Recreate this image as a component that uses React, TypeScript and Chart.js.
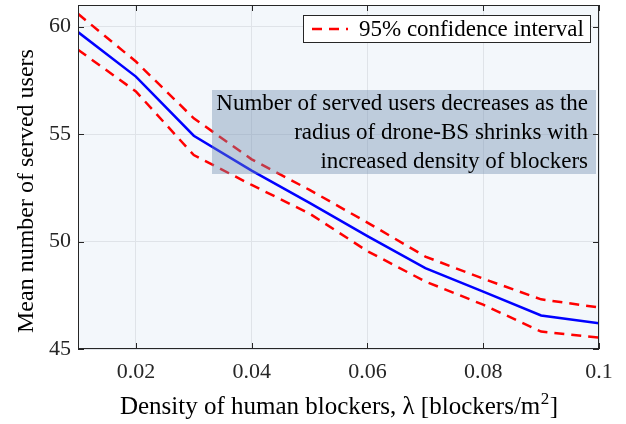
import React, { useEffect, useRef } from "react";
import { Chart, registerables } from "chart.js";

Chart.register(...registerables);

const lambda = [0.01, 0.02, 0.03, 0.04, 0.05, 0.06, 0.07, 0.08, 0.09, 0.1];
const meanUsers = [59.74, 57.67, 54.92, 53.3, 51.8, 50.25, 48.76, 47.67, 46.56, 46.2];
const upperCI = [60.59, 58.37, 55.73, 53.82, 52.4, 50.88, 49.3, 48.27, 47.31, 46.93];
const lowerCI = [58.92, 56.98, 54.02, 52.63, 51.3, 49.55, 48.14, 47.06, 45.81, 45.53];

const xTicks = [0.02, 0.04, 0.06, 0.08, 0.1];
const xTickLabels = ["0.02", "0.04", "0.06", "0.08", "0.1"];
const yTicks = [45, 50, 55, 60];
const yTickLabels = ["45", "50", "55", "60"];

const xTitle = "Density of human blockers, λ [blockers/m";
const xTitleSup = "2";
const xTitleEnd = "]";
const yTitle = "Mean number of served users";
const legendLabel = "95% confidence interval";
const noteLines = [
  "Number of served users decreases as the",
  "radius of drone-BS shrinks with",
  "increased density of blockers",
];

const FONT = '"Liberation Serif", "Times New Roman", serif';
const AXIS = "#262626";
const DASH = [10, 7];

const decorPlugin = {
  id: "decor",
  beforeDraw(chart: any) {
    const { ctx, chartArea: a } = chart;
    ctx.save();
    ctx.fillStyle = "#f3f7fb";
    ctx.fillRect(a.left, a.top, a.right - a.left, a.bottom - a.top);
    ctx.restore();
  },
  afterDatasetsDraw(chart: any) {
    const { ctx, chartArea: a, scales } = chart;
    // annotation box
    ctx.save();
    const bx = a.left + 134;
    const by = a.top + 85;
    const bw = a.right - 3 - bx;
    const bh = 84;
    ctx.fillStyle = "rgba(110,140,175,0.4)";
    ctx.fillRect(bx, by, bw, bh);
    ctx.fillStyle = "#000";
    ctx.font = `23px ${FONT}`;
    ctx.textAlign = "right";
    ctx.textBaseline = "middle";
    noteLines.forEach((t, i) => {
      ctx.fillText(t, bx + bw - 8, by + 14 + i * 29);
    });
    ctx.restore();

    // border and inside ticks
    ctx.save();
    ctx.strokeStyle = AXIS;
    ctx.lineWidth = 1;
    ctx.strokeRect(a.left + 0.5, a.top + 0.5, a.right - a.left - 1, a.bottom - a.top - 1);
    ctx.beginPath();
    const tl = 6;
    xTicks.forEach((v) => {
      const x = Math.round(scales.x.getPixelForValue(v)) + 0.5;
      ctx.moveTo(x, a.bottom);
      ctx.lineTo(x, a.bottom - tl);
      ctx.moveTo(x, a.top);
      ctx.lineTo(x, a.top + tl);
    });
    yTicks.forEach((v) => {
      const y = Math.round(scales.y.getPixelForValue(v)) + 0.5;
      ctx.moveTo(a.left, y);
      ctx.lineTo(a.left + tl, y);
      ctx.moveTo(a.right, y);
      ctx.lineTo(a.right - tl, y);
    });
    ctx.stroke();
    ctx.restore();

    // legend
    ctx.save();
    const lx = a.left + 225;
    const ly = a.top + 10;
    const lw = a.right - 8 - lx;
    const lh = 28;
    ctx.fillStyle = "#ffffff";
    ctx.fillRect(lx, ly, lw, lh);
    ctx.strokeStyle = AXIS;
    ctx.lineWidth = 1;
    ctx.strokeRect(lx + 0.5, ly + 0.5, lw - 1, lh - 1);
    ctx.strokeStyle = "#ff0000";
    ctx.lineWidth = 2.5;
    ctx.setLineDash(DASH);
    ctx.beginPath();
    ctx.moveTo(lx + 9, ly + lh / 2);
    ctx.lineTo(lx + 45, ly + lh / 2);
    ctx.stroke();
    ctx.setLineDash([]);
    ctx.fillStyle = "#000";
    ctx.font = `23px ${FONT}`;
    ctx.textAlign = "left";
    ctx.textBaseline = "middle";
    ctx.fillText(legendLabel, lx + 56, ly + lh / 2 + 1);
    ctx.restore();

    // axis titles
    ctx.save();
    ctx.fillStyle = "#000";
    ctx.textBaseline = "alphabetic";
    const mainFont = `25px ${FONT}`;
    const supFont = `17px ${FONT}`;
    ctx.font = mainFont;
    const w1 = ctx.measureText(xTitle).width;
    const w3 = ctx.measureText(xTitleEnd).width;
    ctx.font = supFont;
    const w2 = ctx.measureText(xTitleSup).width;
    const total = w1 + w2 + w3;
    const cx = (a.left + a.right) / 2;
    const x0 = cx - total / 2;
    const base = 414;
    ctx.textAlign = "left";
    ctx.font = mainFont;
    ctx.fillText(xTitle, x0, base);
    ctx.font = supFont;
    ctx.fillText(xTitleSup, x0 + w1 + 0.5, base - 10);
    ctx.font = mainFont;
    ctx.fillText(xTitleEnd, x0 + w1 + w2 + 1, base);
    // y title: starts just above the plot bottom and runs upward
    ctx.font = `24px ${FONT}`;
    const yw = ctx.measureText(yTitle).width;
    const ycenter = a.bottom - 16 - yw / 2;
    ctx.translate(33, ycenter);
    ctx.rotate(-Math.PI / 2);
    ctx.textAlign = "center";
    ctx.textBaseline = "alphabetic";
    ctx.fillText(yTitle, 0, 0);
    ctx.restore();
  },
};

export default function App() {
  const ref = useRef<HTMLCanvasElement | null>(null);
  useEffect(() => {
    if (!ref.current) return;
    const toPts = (ys: number[]) => lambda.map((x, i) => ({ x, y: ys[i] }));
    const chart = new Chart(ref.current, {
      type: "line",
      data: {
        datasets: [
          {
            label: "Mean",
            data: toPts(meanUsers),
            borderColor: "#0000ff",
            borderWidth: 2.5,
            pointRadius: 0,
            tension: 0,
          },
          {
            label: legendLabel,
            data: toPts(upperCI),
            borderColor: "#ff0000",
            borderWidth: 2.5,
            borderDash: DASH,
            pointRadius: 0,
            tension: 0,
          },
          {
            label: "lower",
            data: toPts(lowerCI),
            borderColor: "#ff0000",
            borderWidth: 2.5,
            borderDash: DASH,
            pointRadius: 0,
            tension: 0,
          },
        ],
      },
      options: {
        responsive: false,
        animation: false,
        layout: { padding: { left: 0, right: 27, top: 5, bottom: 0 } },
        plugins: { legend: { display: false }, tooltip: { enabled: false } },
        scales: {
          x: {
            type: "linear",
            min: 0.01,
            max: 0.1,
            afterBuildTicks: (s: any) => {
              s.ticks = xTicks.map((v) => ({ value: v }));
            },
            afterFit: (s: any) => {
              s.height = 75;
              s.paddingLeft = 0;
              s.paddingRight = 0;
            },
            ticks: {
              callback: (_v: any, i: number) => xTickLabels[i],
              font: { family: FONT, size: 22 },
              color: AXIS,
              padding: 10,
              maxRotation: 0,
              autoSkip: false,
            },
            grid: { color: "#dfe3e8", drawTicks: false },
            border: { display: false },
            title: { display: false },
          },
          y: {
            type: "linear",
            min: 45,
            max: 61,
            afterBuildTicks: (s: any) => {
              s.ticks = yTicks.map((v) => ({ value: v }));
            },
            afterFit: (s: any) => {
              s.width = 78;
              s.paddingTop = 0;
              s.paddingBottom = 0;
            },
            ticks: {
              callback: (_v: any, i: number) => yTickLabels[i],
              font: { family: FONT, size: 22 },
              color: AXIS,
              padding: 7,
              autoSkip: false,
            },
            grid: { color: "#dfe3e8", drawTicks: false },
            border: { display: false },
            title: { display: false },
          },
        },
      },
      plugins: [decorPlugin],
    });
    return () => chart.destroy();
  }, []);
  return (
    <div style={{ position: "absolute", left: 0, top: 0, width: 626, height: 424, background: "#fff" }}>
      <canvas ref={ref} width={626} height={424} style={{ width: 626, height: 424, display: "block" }} />
    </div>
  );
}
